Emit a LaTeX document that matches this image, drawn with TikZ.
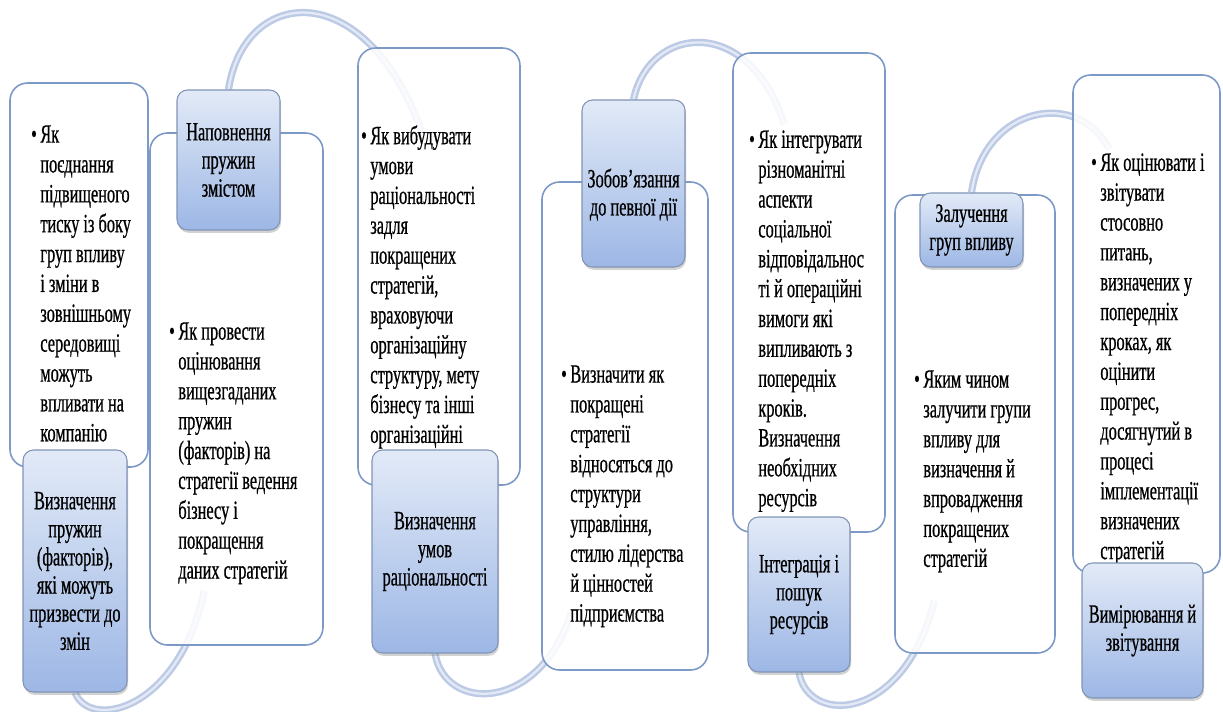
\documentclass[tikz,border=0pt]{standalone}
\usepackage{fontspec}
\setmainfont[FakeStretch=0.62,FakeBold=0.6]{Liberation Serif}
\usepackage{tikz}
\usetikzlibrary{calc,shadows,backgrounds}
\definecolor{uaedge}{HTML}{7D99C7}
\definecolor{uatop}{HTML}{E2EAF7}
\definecolor{uabot}{HTML}{9DB7E5}
\definecolor{uaframe}{HTML}{8194B6}
\definecolor{ualink}{HTML}{BCCAE5}
\definecolor{ualinkhi}{HTML}{E3EAF6}
\tikzset{
  card/.style 2 args={rounded corners=10pt,draw=uaedge,line width=0.9pt,fill=white,fill opacity=0.85,text opacity=1,inner sep=0pt,minimum width=#1*0.02cm,minimum height=#2*0.02cm},
  head/.style 2 args={rounded corners=6pt,draw=uaframe,line width=0.6pt,top color=uatop,bottom color=uabot,align=center,inner sep=0pt,font=\fontsize{15pt}{16pt}\selectfont,minimum width=#1*0.02cm,minimum height=#2*0.02cm,drop shadow={shadow xshift=0.6pt,shadow yshift=-1.6pt,opacity=0.35}},
  blt/.style={anchor=north west,align=left,inner sep=0pt},
  lnk/.style={draw=ualink,line width=1.4pt,double=ualinkhi,double distance=1.3pt},
}

\begin{document}
\begin{tikzpicture}[x=0.02cm,y=-0.02cm,font=\fontsize{15pt}{17pt}\selectfont]
  \useasboundingbox (0,0) rectangle (1223,711);
  % white cards
  \node[card={138}{384}] (w1) at (79,275) {};
  \node[card={173}{512}] (w2) at (236.5,389) {};
  \node[card={162}{437}] (w3) at (439,266.5) {};
  \node[card={166}{488}] (w4) at (625,426) {};
  \node[card={152}{479}] (w5) at (809,292.5) {};
  \node[card={160}{458}] (w6) at (975,424) {};
  \node[card={147}{498}] (w7) at (1146.5,324) {};
  % bullet texts
  \node[blt] (t1) at (40,125) {\llap{•\kern2pt}Як\\поєднання\\підвищеного\\тиску із боку\\груп впливу\\і зміни в\\зовнішньому\\середовищі\\можуть\\впливати на\\компанію};
  \node[blt] (t2) at (178,322) {\llap{•\kern2pt}Як провести\\оцінювання\\вищезгаданих\\пружин\\(факторів) на\\стратегії ведення\\бізнесу і\\покращення\\даних стратегій};
  \node[blt] (t3) at (370,125) {\llap{•\kern2pt}Як вибудувати\\умови\\раціональності\\задля\\покращених\\стратегій,\\враховуючи\\організаційну\\структуру, мету\\бізнесу та інші\\організаційні};
  \node[blt] (t4) at (570,365) {\llap{•\kern2pt}Визначити як\\покращені\\стратегії\\відносяться до\\структури\\управління,\\стилю лідерства\\й цінностей\\підприємства};
  \node[blt] (t5) at (758,130) {\llap{•\kern2pt}Як інтегрувати\\різноманітні\\аспекти\\соціальної\\відповідальнос\\ті й операційні\\вимоги які\\випливають з\\попередніх\\кроків.\\Визначення\\необхідних\\ресурсів};
  \node[blt] (t6) at (923,370) {\llap{•\kern2pt}Яким чином\\залучити групи\\впливу для\\визначення й\\впровадження\\покращених\\стратегій};
  \node[blt] (t7) at (1100,153) {\llap{•\kern2pt}Як оцінювати і\\звітувати\\стосовно\\питань,\\визначених у\\попередніх\\кроках, як\\оцінити\\прогрес,\\досягнутий в\\процесі\\імплементації\\визначених\\стратегій};
  % blue headers
  \node[head={104}{242}] (b1) at (75,571) {Визначення\\пружин\\(факторів),\\які можуть\\призвести до\\змін};
  \node[head={103}{140}] (b2) at (228.5,160) {Наповнення\\пружин\\змістом};
  \node[head={126}{203}] (b3) at (435,551.5) {Визначення\\умов\\раціональності};
  \node[head={103}{167}] (b4) at (633.5,183.5) {\raisebox{0pt}[\dimexpr\height+14pt\relax]{\begin{tabular}{@{}c@{}}Зобов'язання\\до певної дії\end{tabular}}};
  \node[head={102}{155}] (b5) at (799,594.5) {Інтеграція і\\пошук\\ресурсів};
  \node[head={103}{74}] (b6) at (971.5,230) {Залучення\\груп впливу};
  \node[head={121}{135}] (b7) at (1142.5,630.5) {Вимірювання й\\звітування};
  \begin{pgfonlayer}{background}
    \fill[white] (0,0) rectangle (1223,711);
    \draw[lnk] (b1.south) .. controls +(15,38) and +(-25,120) .. ($(w2.south west)+(55,-55)$);
    \draw[lnk] (b2.north) .. controls +(16,-105) and +(-55,-165) .. ($(w3.north west)+(67,92)$);
    \draw[lnk] (b3.south) .. controls +(10,59) and +(-32,100) .. ($(w4.south west)+(30,-58)$);
    \draw[lnk] (b4.north) .. controls +(16,-75) and +(-35,-110) .. ($(w5.north west)+(52,72)$);
    \draw[lnk] (b5.south) .. controls +(9,53) and +(-30,122) .. ($(w6.south west)+(40,-53)$);
    \draw[lnk] (b6.north) .. controls +(13,-88) and +(-30,-60) .. ($(w7.north west)+(37,75)$);
  \end{pgfonlayer}
\end{tikzpicture}
\end{document}
